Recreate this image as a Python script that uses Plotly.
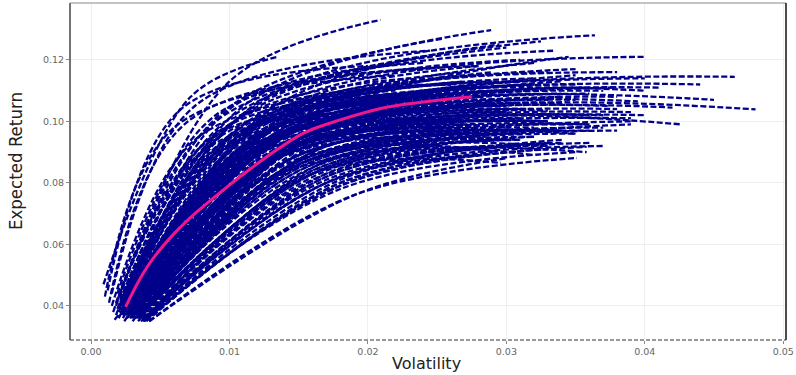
import plotly.graph_objects as go

# Resampled frontiers: start (min-variance), knee, and end points
start_vol = [0.0009, 0.0012, 0.0010, 0.0015, 0.0013, 0.0020,
             0.0022, 0.0025, 0.0020, 0.0018, 0.0024, 0.0021, 0.0028,
             0.0030, 0.0032, 0.0028, 0.0030, 0.0026, 0.0033, 0.0029, 0.0027, 0.0031, 0.0034,
             0.0035, 0.0038, 0.0030, 0.0032, 0.0036, 0.0028, 0.0040, 0.0017,
             0.0020, 0.0022, 0.0025, 0.0027, 0.0023, 0.0029, 0.0030, 0.0019, 0.0024, 0.0026,
             0.0021, 0.0031, 0.0033, 0.0028, 0.0022, 0.0035, 0.0026, 0.0029, 0.0024, 0.0032,
             0.0037, 0.0020, 0.0027, 0.0030, 0.0023, 0.0034, 0.0025, 0.0018, 0.0039, 0.0016,
             0.0030, 0.0024, 0.0036, 0.0021, 0.0027, 0.0015, 0.0033, 0.0038, 0.0026,
             0.0022, 0.0024, 0.0026, 0.0028, 0.0030, 0.0032, 0.0034, 0.0023, 0.0025, 0.0027,
             0.0029, 0.0031, 0.0033, 0.0021, 0.0026, 0.0028, 0.0030, 0.0024, 0.0027, 0.0029,
             0.0025, 0.0031, 0.0023, 0.0028, 0.0032, 0.0026, 0.0030, 0.0022, 0.0027, 0.0033,
             0.0024, 0.0029, 0.0026, 0.0031, 0.0028, 0.0025, 0.0030, 0.0023, 0.0027, 0.0032,
             0.0020, 0.0035, 0.0018, 0.0036, 0.0019, 0.0034, 0.0021, 0.0037, 0.0022, 0.0033,
             0.0030, 0.0033, 0.0036, 0.0039, 0.0042, 0.0031, 0.0034, 0.0037, 0.0040, 0.0029,
             0.0032, 0.0035, 0.0038, 0.0041, 0.0030, 0.0033, 0.0036, 0.0039, 0.0028, 0.0031,
             0.0034, 0.0037, 0.0040, 0.0032, 0.0035, 0.0038, 0.0029, 0.0033, 0.0036, 0.0039,
             0.0031, 0.0034, 0.0037, 0.0030, 0.0035, 0.0038, 0.0033, 0.0036, 0.0040, 0.0042]
start_ret = [0.047, 0.045, 0.043, 0.044, 0.041, 0.043,
             0.040, 0.041, 0.039, 0.040, 0.038, 0.040, 0.042,
             0.040, 0.039, 0.038, 0.037, 0.039, 0.038, 0.040, 0.041, 0.039, 0.037,
             0.036, 0.035, 0.035, 0.036, 0.037, 0.036, 0.036, 0.0355,
             0.038, 0.037, 0.039, 0.040, 0.036, 0.038, 0.041, 0.039, 0.042, 0.037,
             0.041, 0.037, 0.040, 0.039, 0.038, 0.039, 0.043, 0.036, 0.040, 0.042,
             0.038, 0.036, 0.038, 0.040, 0.039, 0.041, 0.037, 0.037, 0.039, 0.038,
             0.036, 0.035, 0.040, 0.043, 0.044, 0.040, 0.037, 0.041, 0.036,
             0.039, 0.040, 0.038, 0.041, 0.039, 0.040, 0.038, 0.041, 0.037, 0.039,
             0.040, 0.038, 0.039, 0.040, 0.041, 0.037, 0.038, 0.039, 0.040, 0.036,
             0.038, 0.040, 0.042, 0.039, 0.041, 0.036, 0.037, 0.040, 0.042, 0.038,
             0.041, 0.039, 0.040, 0.037, 0.042, 0.038, 0.039, 0.037, 0.041, 0.040,
             0.043, 0.036, 0.041, 0.037, 0.044, 0.035, 0.042, 0.039, 0.038, 0.043,
             0.037, 0.036, 0.035, 0.036, 0.035, 0.038, 0.037, 0.036, 0.035, 0.038,
             0.037, 0.036, 0.035, 0.036, 0.039, 0.038, 0.037, 0.036, 0.039, 0.037,
             0.036, 0.035, 0.036, 0.038, 0.037, 0.036, 0.038, 0.037, 0.036, 0.035,
             0.038, 0.037, 0.036, 0.039, 0.037, 0.036, 0.038, 0.037, 0.036, 0.035]
knee_vol = [0.0072, 0.0065, 0.0060, 0.0075, 0.0070, 0.0100,
            0.0110, 0.0120, 0.0100, 0.0095, 0.0120, 0.0115, 0.0130,
            0.0140, 0.0150, 0.0140, 0.0150, 0.0130, 0.0150, 0.0130, 0.0125, 0.0140, 0.0160,
            0.0160, 0.0170, 0.0150, 0.0160, 0.0150, 0.0145, 0.0170, 0.0120,
            0.0100, 0.0110, 0.0120, 0.0130, 0.0120, 0.0140, 0.0135, 0.0090, 0.0100, 0.0125,
            0.0105, 0.0145, 0.0140, 0.0115, 0.0095, 0.0150, 0.0110, 0.0130, 0.0105, 0.0125,
            0.0155, 0.0100, 0.0130, 0.0140, 0.0115, 0.0145, 0.0120, 0.0085, 0.0160, 0.0080,
            0.0140, 0.0130, 0.0150, 0.0090, 0.0100, 0.0075, 0.0160, 0.0165, 0.0140,
            0.0115, 0.0120, 0.0125, 0.0130, 0.0135, 0.0140, 0.0145, 0.0110, 0.0125, 0.0130,
            0.0135, 0.0140, 0.0150, 0.0105, 0.0120, 0.0130, 0.0140, 0.0115, 0.0125, 0.0135,
            0.0120, 0.0145, 0.0110, 0.0130, 0.0140, 0.0125, 0.0140, 0.0105, 0.0120, 0.0150,
            0.0115, 0.0135, 0.0125, 0.0145, 0.0125, 0.0120, 0.0135, 0.0115, 0.0130, 0.0145,
            0.0090, 0.0155, 0.0085, 0.0160, 0.0090, 0.0150, 0.0100, 0.0160, 0.0110, 0.0140,
            0.0150, 0.0160, 0.0170, 0.0180, 0.0190, 0.0145, 0.0155, 0.0165, 0.0175, 0.0140,
            0.0150, 0.0160, 0.0170, 0.0180, 0.0140, 0.0150, 0.0165, 0.0175, 0.0135, 0.0145,
            0.0155, 0.0170, 0.0185, 0.0150, 0.0160, 0.0175, 0.0140, 0.0155, 0.0165, 0.0180,
            0.0145, 0.0160, 0.0170, 0.0140, 0.0155, 0.0170, 0.0150, 0.0165, 0.0180, 0.0190]
knee_ret = [0.108, 0.104, 0.098, 0.105, 0.100, 0.113,
            0.105, 0.106, 0.101, 0.103, 0.102, 0.104, 0.104,
            0.098, 0.095, 0.097, 0.093, 0.097, 0.094, 0.099, 0.100, 0.096, 0.092,
            0.083, 0.085, 0.086, 0.088, 0.089, 0.087, 0.087, 0.080,
            0.092, 0.090, 0.095, 0.097, 0.089, 0.093, 0.099, 0.094, 0.099, 0.091,
            0.097, 0.091, 0.095, 0.096, 0.093, 0.096, 0.102, 0.088, 0.096, 0.101,
            0.093, 0.086, 0.094, 0.100, 0.095, 0.098, 0.092, 0.088, 0.095, 0.090,
            0.090, 0.087, 0.099, 0.100, 0.104, 0.094, 0.090, 0.098, 0.089,
            0.093, 0.095, 0.092, 0.097, 0.094, 0.096, 0.093, 0.096, 0.090, 0.094,
            0.096, 0.092, 0.095, 0.095, 0.098, 0.089, 0.091, 0.094, 0.097, 0.088,
            0.093, 0.097, 0.099, 0.094, 0.098, 0.089, 0.090, 0.096, 0.100, 0.092,
            0.098, 0.094, 0.096, 0.091, 0.100, 0.092, 0.095, 0.090, 0.099, 0.097,
            0.096, 0.088, 0.094, 0.090, 0.102, 0.086, 0.099, 0.093, 0.091, 0.101,
            0.086, 0.083, 0.080, 0.078, 0.076, 0.088, 0.085, 0.082, 0.079, 0.089,
            0.087, 0.084, 0.081, 0.079, 0.090, 0.087, 0.084, 0.081, 0.090, 0.088,
            0.085, 0.082, 0.080, 0.086, 0.084, 0.081, 0.089, 0.086, 0.083, 0.080,
            0.088, 0.085, 0.082, 0.090, 0.086, 0.083, 0.087, 0.084, 0.081, 0.076]
end_vol = [0.0135, 0.0200, 0.0220, 0.0245, 0.0280, 0.0209,
           0.0289, 0.0364, 0.0325, 0.0255, 0.0400, 0.0335, 0.0295,
           0.0465, 0.0480, 0.0450, 0.0427, 0.0440, 0.0420, 0.0400, 0.0380, 0.0395, 0.0370,
           0.0296, 0.0358, 0.0330, 0.0300, 0.0350, 0.0280, 0.0320, 0.0250,
           0.0300, 0.0280, 0.0320, 0.0260, 0.0340, 0.0300, 0.0270, 0.0240, 0.0230, 0.0310,
           0.0350, 0.0330, 0.0360, 0.0290, 0.0270, 0.0340, 0.0310, 0.0250, 0.0220, 0.0280,
           0.0300, 0.0260, 0.0380, 0.0320, 0.0250, 0.0345, 0.0330, 0.0210, 0.0375, 0.0230,
           0.0310, 0.0285, 0.0260, 0.0300, 0.0240, 0.0190, 0.0390, 0.0350, 0.0270,
           0.0280, 0.0300, 0.0260, 0.0320, 0.0290, 0.0340, 0.0310, 0.0250, 0.0270, 0.0330,
           0.0360, 0.0300, 0.0380, 0.0240, 0.0290, 0.0270, 0.0310, 0.0260, 0.0350, 0.0280,
           0.0320, 0.0370, 0.0260, 0.0300, 0.0400, 0.0250, 0.0330, 0.0230, 0.0280, 0.0360,
           0.0310, 0.0340, 0.0290, 0.0390, 0.0270, 0.0240, 0.0350, 0.0300, 0.0320, 0.0410,
           0.0220, 0.0340, 0.0200, 0.0360, 0.0240, 0.0310, 0.0260, 0.0380, 0.0290, 0.0330,
           0.0300, 0.0330, 0.0280, 0.0350, 0.0300, 0.0360, 0.0320, 0.0340, 0.0290, 0.0380,
           0.0270, 0.0310, 0.0360, 0.0330, 0.0400, 0.0340, 0.0300, 0.0370, 0.0280, 0.0320,
           0.0350, 0.0310, 0.0358, 0.0390, 0.0290, 0.0330, 0.0260, 0.0370, 0.0320, 0.0280,
           0.0350, 0.0380, 0.0300, 0.0330, 0.0360, 0.0270, 0.0310, 0.0390, 0.0340, 0.0351]
end_ret = [0.121, 0.118, 0.115, 0.123, 0.118, 0.133,
           0.1297, 0.128, 0.126, 0.127, 0.121, 0.123, 0.125,
           0.1145, 0.1039, 0.107, 0.099, 0.112, 0.1045, 0.110, 0.116, 0.1065, 0.102,
           0.0865, 0.090, 0.092, 0.094, 0.096, 0.091, 0.089, 0.092,
           0.110, 0.105, 0.112, 0.108, 0.108, 0.103, 0.113, 0.112, 0.114, 0.106,
           0.117, 0.100, 0.109, 0.116, 0.111, 0.113, 0.120, 0.099, 0.109, 0.118,
           0.098, 0.100, 0.111, 0.119, 0.104, 0.121, 0.1035, 0.104, 0.105, 0.107,
           0.097, 0.095, 0.110, 0.124, 0.119, 0.110, 0.101, 0.115, 0.096,
           0.108, 0.110, 0.105, 0.112, 0.106, 0.109, 0.104, 0.109, 0.102, 0.107,
           0.111, 0.103, 0.108, 0.108, 0.113, 0.099, 0.101, 0.106, 0.112, 0.097,
           0.104, 0.110, 0.112, 0.105, 0.114, 0.098, 0.100, 0.107, 0.115, 0.102,
           0.113, 0.106, 0.110, 0.103, 0.116, 0.101, 0.107, 0.100, 0.114, 0.111,
           0.110, 0.097, 0.106, 0.099, 0.117, 0.094, 0.112, 0.104, 0.100, 0.116,
           0.094, 0.092, 0.089, 0.090, 0.088, 0.099, 0.095, 0.093, 0.090, 0.101,
           0.096, 0.094, 0.093, 0.091, 0.102, 0.097, 0.094, 0.092, 0.098, 0.098,
           0.096, 0.092, 0.0917, 0.100, 0.094, 0.093, 0.097, 0.098, 0.095, 0.089,
           0.099, 0.097, 0.092, 0.100, 0.097, 0.091, 0.096, 0.099, 0.094, 0.0881]

# Average frontier
mean_vol = [0.0025, 0.0035, 0.0045, 0.0060, 0.0075, 0.0095, 0.0115,
            0.0135, 0.0155, 0.0180, 0.0210, 0.0240, 0.0275]
mean_ret = [0.0397, 0.0485, 0.0555, 0.0635, 0.0700, 0.0775, 0.0845,
            0.0910, 0.0965, 0.1005, 0.1043, 0.1063, 0.1080]

x_ticks = [0.00, 0.01, 0.02, 0.03, 0.04, 0.05]
y_ticks = [0.04, 0.06, 0.08, 0.10, 0.12]

fig = go.Figure()
for i in range(len(start_vol)):
    fig.add_trace(go.Scatter(
        x=[start_vol[i], knee_vol[i], end_vol[i]],
        y=[start_ret[i], knee_ret[i], end_ret[i]],
        mode="lines",
        line=dict(color="#00008B", width=2.3, dash="6px,2.5px", shape="spline", smoothing=1.0),
        showlegend=False, hoverinfo="skip"))

fig.add_trace(go.Scatter(
    x=mean_vol, y=mean_ret, mode="lines",
    line=dict(color="#F0168C", width=3, shape="spline"),
    showlegend=False))

tick_font = dict(family="DejaVu Sans", size=9.5, color="#666666")
fig.update_layout(
    width=796, height=375,
    margin=dict(l=70, r=10, t=3, b=35),
    paper_bgcolor="white", plot_bgcolor="white",
    xaxis=dict(range=[-0.00152, 0.0502], tickvals=x_ticks, tickformat=".2f",
               showgrid=True, gridcolor="#efefef", zeroline=False, automargin=False,
               ticks="outside", ticklen=3, tickcolor="#888", tickfont=tick_font),
    yaxis=dict(range=[0.0289, 0.1385], tickvals=y_ticks, tickformat=".2f",
               showgrid=True, gridcolor="#efefef", zeroline=False, automargin=False,
               ticks="outside", ticklen=3, tickcolor="#888", tickfont=tick_font),
    annotations=[
        dict(text="Volatility", xref="paper", yref="paper", x=0.4986, y=-0.071,
             xanchor="center", yanchor="middle", showarrow=False,
             font=dict(family="DejaVu Sans", size=16, color="#222")),
        dict(text="Expected Return", xref="paper", yref="paper", x=-0.0768, y=0.531,
             xanchor="center", yanchor="middle", textangle=-90, showarrow=False,
             font=dict(family="Liberation Sans Narrow, DejaVu Sans Condensed, Arial Narrow, sans-serif",
                       size=18.5, color="#222")),
    ],
    shapes=[
        dict(type="line", xref="paper", yref="paper", x0=0, x1=0, y0=0, y1=1,
             line=dict(color="#444", width=1.5)),
        dict(type="line", xref="paper", yref="paper", x0=0, x1=1, y0=1, y1=1,
             line=dict(color="#888", width=1.2)),
        dict(type="line", xref="paper", yref="paper", x0=1, x1=1, y0=0, y1=1,
             line=dict(color="#111", width=1.5)),
        dict(type="line", xref="paper", yref="paper", x0=0, x1=1, y0=0, y1=0,
             line=dict(color="#333", width=1, dash="4px,2px")),
    ],
)

fig.write_html("out.html", config={"displayModeBar": False},
               post_script="document.body.style.margin='0';document.body.style.padding='0';")
